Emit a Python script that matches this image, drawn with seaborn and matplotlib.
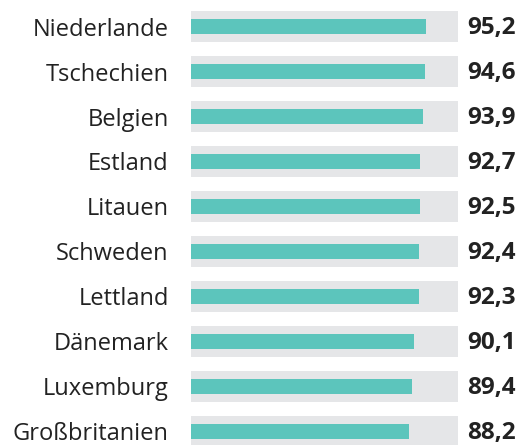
import pandas as pd
import matplotlib.pyplot as plt
import seaborn as sns

laender = ['Niederlande', 'Tschechien', 'Belgien', 'Estland', 'Litauen',
           'Schweden', 'Lettland', 'Dänemark', 'Luxemburg', 'Großbritanien']
werte = [95.2, 94.6, 93.9, 92.7, 92.5, 92.4, 92.3, 90.1, 89.4, 88.2]
labels = ['95,2', '94,6', '93,9', '92,7', '92,5', '92,4', '92,3', '90,1', '89,4', '88,2']

df = pd.DataFrame({'Land': laender, 'Wert': werte})
xmax = 108

sns.set_style('white')
plt.rcParams['font.family'] = ['Open Sans', 'DejaVu Sans']

fig = plt.figure(figsize=(5.3, 4.45), dpi=100)
ax = fig.add_axes([0.3604, -0.0202, 0.5038, 1.0112])

# grey track behind each bar
sns.barplot(x=[xmax] * len(df), y=df['Land'], color='#e5e6e8', width=0.69,
            saturation=1, linewidth=0, ax=ax, orient='h')
sns.barplot(data=df, x='Wert', y='Land', color='#5cc5bc', width=0.33,
            saturation=1, linewidth=0, ax=ax, orient='h')

ax.set_xlim(0, xmax)
ax.set_ylim(len(df) - 0.5, -0.5)
ax.set_xlabel('')
ax.set_ylabel('')
ax.set_xticks([])
ax.tick_params(axis='y', length=0, pad=16, labelsize=17, labelcolor='#222222')
sns.despine(left=True, bottom=True)

for i, lab in enumerate(labels):
    ax.text(1.034, i + 0.04, lab, transform=ax.get_yaxis_transform(), ha='left', va='center',
            fontsize=17.5, fontweight='bold', color='#222222')

fig.savefig('out.png', dpi=100)
